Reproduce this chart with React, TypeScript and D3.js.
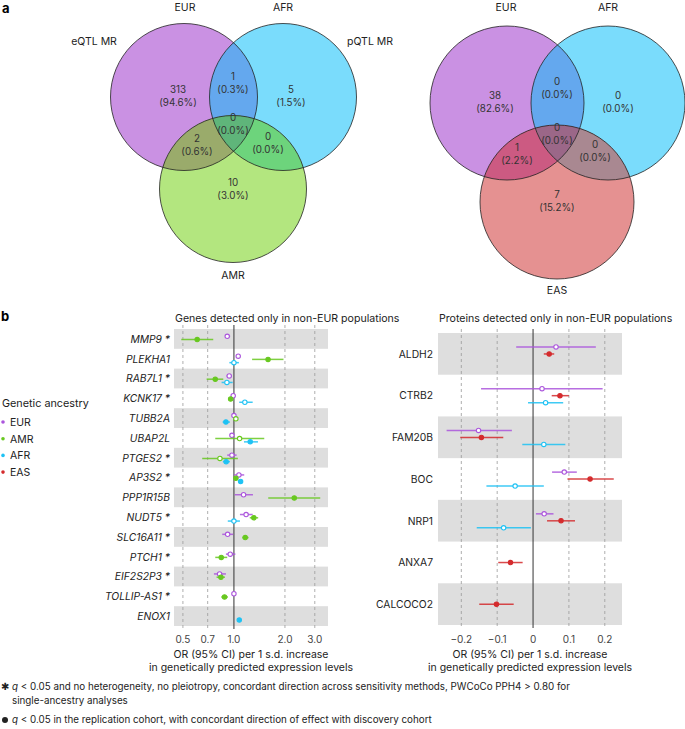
import React from "react"
import * as d3 from "d3"

const FONT = "Inter, 'Noto Sans', sans-serif"
const W = 685
const H = 729

// ---- panel a: Venn counts ----
const REGIONS = ["A", "AB", "B", "ABC", "AC", "BC", "C"]
const eqtlSets = ["EUR", "AFR", "AMR"]
const eqtlCounts = [313, 1, 5, 0, 2, 0, 10]
const pqtlSets = ["EUR", "AFR", "EAS"]
const pqtlCounts = [38, 0, 0, 0, 1, 0, 7]

// ---- panel b: ancestry ----
const ancestries = ["EUR", "AMR", "AFR", "EAS"]
const ancestryColors = ["#ab55dc", "#68c820", "#1ec2f4", "#d42b2d"]

// genes: [label, ancestry, OR, lower, upper, replicated]
const genes = [
  "MMP9 *", "PLEKHA1", "RAB7L1 *", "KCNK17 *", "TUBB2A", "UBAP2L", "PTGES2 *",
  "AP3S2 *", "PPP1R15B", "NUDT5 *", "SLC16A11 *", "PTCH1 *", "EIF2S2P3 *",
  "TOLLIP-AS1 *", "ENOX1",
]
const geneEstimates: [string, string, number, number, number, boolean][] = [
  ["MMP9 *", "EUR", 0.913, 0.89, 0.95, false],
  ["MMP9 *", "AMR", 0.607, 0.489, 0.755, true],
  ["PLEKHA1", "EUR", 1.06, 1.04, 1.08, false],
  ["PLEKHA1", "AMR", 1.59, 1.28, 1.96, true],
  ["PLEKHA1", "AFR", 1.0, 0.94, 1.07, false],
  ["RAB7L1 *", "EUR", 0.938, 0.905, 0.973, false],
  ["RAB7L1 *", "AMR", 0.776, 0.69, 0.865, true],
  ["RAB7L1 *", "AFR", 0.909, 0.846, 0.983, false],
  ["KCNK17 *", "EUR", 0.99, 0.97, 1.01, false],
  ["KCNK17 *", "AMR", 0.956, 0.94, 0.97, true],
  ["KCNK17 *", "AFR", 1.16, 1.075, 1.29, false],
  ["TUBB2A", "EUR", 1.0, 0.98, 1.02, false],
  ["TUBB2A", "AMR", 1.027, 1.01, 1.045, false],
  ["TUBB2A", "AFR", 0.897, 0.858, 0.947, true],
  ["UBAP2L", "EUR", 0.973, 0.95, 0.997, false],
  ["UBAP2L", "AMR", 1.08, 0.776, 1.51, false],
  ["UBAP2L", "AFR", 1.248, 1.146, 1.386, true],
  ["PTGES2 *", "EUR", 0.973, 0.913, 1.037, false],
  ["PTGES2 *", "AMR", 0.827, 0.65, 1.055, false],
  ["PTGES2 *", "AFR", 0.9, 0.86, 0.947, true],
  ["AP3S2 *", "EUR", 1.07, 1.0, 1.15, false],
  ["AP3S2 *", "AMR", 1.027, 1.0, 1.06, true],
  ["AP3S2 *", "AFR", 1.095, 1.07, 1.12, true],
  ["PPP1R15B", "EUR", 1.14, 1.01, 1.295, false],
  ["PPP1R15B", "AMR", 2.27, 1.594, 3.23, true],
  ["NUDT5 *", "EUR", 1.18, 1.085, 1.29, false],
  ["NUDT5 *", "AMR", 1.31, 1.24, 1.39, true],
  ["NUDT5 *", "AFR", 1.0, 0.92, 1.085, false],
  ["SLC16A11 *", "EUR", 0.918, 0.853, 0.99, false],
  ["SLC16A11 *", "AMR", 1.166, 1.12, 1.22, true],
  ["PTCH1 *", "EUR", 0.951, 0.897, 1.02, false],
  ["PTCH1 *", "AMR", 0.842, 0.776, 0.913, true],
  ["EIF2S2P3 *", "EUR", 0.823, 0.762, 0.897, false],
  ["EIF2S2P3 *", "AMR", 0.838, 0.79, 0.885, true],
  ["TOLLIP-AS1 *", "EUR", 1.0, 0.99, 1.01, false],
  ["TOLLIP-AS1 *", "AMR", 0.88, 0.842, 0.922, true],
  ["ENOX1", "AFR", 1.075, 1.06, 1.09, true],
]
const geneTicks = [0.5, 0.7, 1.0, 2.0, 3.0]

const proteins = ["ALDH2", "CTRB2", "FAM20B", "BOC", "NRP1", "ANXA7", "CALCOCO2"]
const proteinEstimates: [string, string, number, number, number, boolean][] = [
  ["ALDH2", "EUR", 0.064, -0.047, 0.175, false],
  ["ALDH2", "EAS", 0.045, 0.03, 0.059, true],
  ["CTRB2", "EUR", 0.025, -0.145, 0.194, false],
  ["CTRB2", "EAS", 0.075, 0.052, 0.1, true],
  ["CTRB2", "AFR", 0.035, -0.014, 0.084, false],
  ["FAM20B", "EUR", -0.152, -0.241, -0.059, false],
  ["FAM20B", "EAS", -0.144, -0.203, -0.083, true],
  ["FAM20B", "AFR", 0.03, -0.03, 0.09, false],
  ["BOC", "EUR", 0.087, 0.053, 0.122, false],
  ["BOC", "EAS", 0.159, 0.096, 0.225, true],
  ["BOC", "AFR", -0.05, -0.13, 0.03, false],
  ["NRP1", "EUR", 0.031, 0.008, 0.057, false],
  ["NRP1", "EAS", 0.078, 0.039, 0.117, true],
  ["NRP1", "AFR", -0.082, -0.157, -0.006, false],
  ["ANXA7", "EAS", -0.063, -0.097, -0.029, true],
  ["CALCOCO2", "EAS", -0.102, -0.15, -0.054, true],
]
const proteinTicks = [-0.2, -0.1, 0, 0.1, 0.2]

const colorOf = d3.scaleOrdinal<string, string>().domain(ancestries).range(ancestryColors)

type VennProps = {
  sets: string[]
  counts: number[]
  centers: [number, number][]
  r: number
  colors: Record<string, string>
  labelPos: [number, number][]
  setLabelPos: [number, number][]
  id: string
}

const Venn = ({ sets, counts, centers, r, colors, labelPos, setLabelPos, id }: VennProps) => {
  const total = d3.sum(counts)
  const fmt = d3.format(".1f")
  const circ = (i: number, fill: string, clip?: string) => (
    <circle cx={centers[i][0]} cy={centers[i][1]} r={r} fill={fill} clipPath={clip} />
  )
  return (
    <g>
      <defs>
        {centers.map((c, i) => (
          <clipPath key={i} id={`${id}-c${i}`}>
            <circle cx={c[0]} cy={c[1]} r={r} />
          </clipPath>
        ))}
      </defs>
      {circ(0, colors.A)}
      {circ(1, colors.B)}
      {circ(2, colors.C)}
      {circ(1, colors.AB, `url(#${id}-c0)`)}
      {circ(2, colors.AC, `url(#${id}-c0)`)}
      {circ(2, colors.BC, `url(#${id}-c1)`)}
      <g clipPath={`url(#${id}-c1)`}>{circ(2, colors.ABC, `url(#${id}-c0)`)}</g>
      {centers.map((c, i) => (
        <circle key={i} cx={c[0]} cy={c[1]} r={r} fill="none" stroke="#222" strokeWidth={0.8} />
      ))}
      {REGIONS.map((reg, i) => (
        <text key={reg} x={labelPos[i][0]} y={labelPos[i][1]} textAnchor="middle" fontSize={9.8} fill="#333">
          <tspan x={labelPos[i][0]} dy={-3}>{counts[i]}</tspan>
          <tspan x={labelPos[i][0]} dy={12.5}>({fmt((counts[i] / total) * 100)}%)</tspan>
        </text>
      ))}
      {sets.map((s, i) => (
        <text key={s} x={setLabelPos[i][0]} y={setLabelPos[i][1]} textAnchor="middle" fontSize={10.5} fill="#222">
          {s}
        </text>
      ))}
    </g>
  )
}

type ForestProps = {
  rows: string[]
  est: [string, string, number, number, number, boolean][]
  x: any
  ticks: number[]
  ref0: number
  top: number
  bottom: number
  left: number
  right: number
  subDomain: string[]
  subRange: [number, number]
  italic: boolean
  labelX: number
  title: string
  tickFmt: (v: number) => string
}

const Forest = (p: ForestProps) => {
  const y = d3.scaleBand().domain(p.rows).range([p.top, p.bottom])
  const bw = y.bandwidth()
  const sub = d3.scalePoint().domain(p.subDomain).range(p.subRange)
  const mid = (p.left + p.right) / 2
  return (
    <g fontFamily={FONT}>
      <text x={p.left + 1} y={322} fontSize={10.6} fill="#222">{p.title}</text>
      {p.rows.map((r, i) => (
        <g key={r}>
          {i % 2 === 0 && (
            <rect x={p.left} y={y(r)} width={p.right - p.left} height={bw} fill="#dedede" />
          )}
          <text
            x={p.labelX}
            y={(y(r) as number) + bw / 2 + 3.8}
            textAnchor="end"
            fontSize={10.3}
            fontStyle={p.italic ? "italic" : "normal"}
            fill="#222"
          >
            {r}
          </text>
        </g>
      ))}
      {p.ticks.map((t) => (
        <g key={t}>
          <line
            x1={p.x(t)}
            x2={p.x(t)}
            y1={p.top - 4}
            y2={p.bottom + 3}
            stroke={t === p.ref0 ? "#333" : "#999"}
            strokeWidth={t === p.ref0 ? 1 : 0.8}
            strokeDasharray={t === p.ref0 ? undefined : "3,3"}
          />
          <text x={p.x(t)} y={643} textAnchor="middle" fontSize={10} fill="#444">
            {p.tickFmt(t)}
          </text>
        </g>
      ))}
      {p.est.map((d, i) => {
        const cy = (y(d[0]) as number) + bw * (sub(d[1]) as number)
        const c = colorOf(d[1])
        return (
          <g key={i}>
            <line x1={p.x(d[3])} x2={p.x(d[4])} y1={cy} y2={cy} stroke={c} strokeWidth={1.5} opacity={0.85} />
            <circle
              cx={p.x(d[2])}
              cy={cy}
              r={2.2}
              fill={d[5] ? c : "#fff"}
              stroke={c}
              strokeWidth={1.1}
            />
          </g>
        )
      })}
      <text x={mid} y={658} textAnchor="middle" fontSize={10.5} fill="#222">
        OR (95% CI) per 1 s.d. increase
      </text>
      <text x={mid} y={671} textAnchor="middle" fontSize={10.5} fill="#222">
        in genetically predicted expression levels
      </text>
    </g>
  )
}

export default function App() {
  const xGene = d3.scaleLog().domain([0.443, 3.59]).range([174, 328])
  const xProt = d3.scaleLinear().domain([-0.265, 0.248]).range([438, 622])

  return (
    <svg
      width={W}
      height={H}
      style={{ position: "absolute", left: 0, top: 0, background: "#fff" }}
      fontFamily={FONT}
    >
      <text x={2} y={13} fontSize={13} fontWeight={700}>a</text>
      <text x={1} y={321} fontSize={13} fontWeight={700}>b</text>

      <text x={94} y={45} textAnchor="middle" fontSize={10.5} fill="#222">eQTL MR</text>
      <text x={370} y={45} textAnchor="middle" fontSize={10.5} fill="#222">pQTL MR</text>

      <Venn
        id="ve"
        sets={eqtlSets}
        counts={eqtlCounts}
        centers={[[184, 97], [283, 97], [233, 189]]}
        r={73.5}
        colors={{
          A: "#ca91e3", B: "#7adcfc", C: "#b3e67f",
          AB: "#64a8ee", AC: "#9aab6b", BC: "#6dd47c", ABC: "#5fb57a",
        }}
        labelPos={[[178, 96], [233, 83], [291, 96], [233, 124], [197, 145], [268, 143], [233, 189]]}
        setLabelPos={[[185, 11], [283, 11], [233, 279]]}
      />
      <Venn
        id="vp"
        sets={pqtlSets}
        counts={pqtlCounts}
        centers={[[507, 103], [608, 103], [557, 202]]}
        r={77}
        colors={{
          A: "#ca91e3", B: "#7adcfc", C: "#e59191",
          AB: "#64a8ee", AC: "#cc5a82", BC: "#a98891", ABC: "#9b6788",
        }}
        labelPos={[[495, 102], [557, 88], [618, 102], [557, 134], [517, 154], [595, 151], [557, 201]]}
        setLabelPos={[[506, 11], [608, 11], [557, 294]]}
      />

      <text x={2} y={407} fontSize={10.8} fill="#222">Genetic ancestry</text>
      {ancestries.map((a, i) => (
        <g key={a}>
          <circle cx={3} cy={422 + i * 16.7} r={1.8} fill={colorOf(a)} />
          <text x={10} y={426 + i * 16.7} fontSize={10.5} fill="#222">{a}</text>
        </g>
      ))}

      <Forest
        rows={genes}
        est={geneEstimates}
        x={xGene}
        ticks={geneTicks}
        ref0={1}
        top={329}
        bottom={626}
        left={174}
        right={328}
        subDomain={["EUR", "AMR", "AFR"]}
        subRange={[0.37, 0.7]}
        italic={true}
        labelX={170}
        title="Genes detected only in non-EUR populations"
        tickFmt={d3.format(".1f")}
      />
      <Forest
        rows={proteins}
        est={proteinEstimates}
        x={xProt}
        ticks={proteinTicks}
        ref0={0}
        top={333}
        bottom={625}
        left={438}
        right={622}
        subDomain={["EUR", "EAS", "AFR"]}
        subRange={[0.335, 0.67]}
        italic={false}
        labelX={433}
        title="Proteins detected only in non-EUR populations"
        tickFmt={(v) => (v === 0 ? "0" : d3.format(".1f")(v).replace("-", "\u2212"))}
      />

      <g fontSize={9.8} fill="#222">
        <text x={1} y={690} fontSize={10} fontFamily="'DejaVu Sans'">✱</text>
        <text x={12} y={690}>
          <tspan fontStyle="italic">q</tspan> {"< 0.05 and no heterogeneity, no pleiotropy, concordant direction across sensitivity methods, PWCoCo PPH4 > 0.80 for"}
        </text>
        <text x={12} y={704}>single-ancestry analyses</text>
        <circle cx={5} cy={720} r={3} fill="#222" />
        <text x={12} y={723}>
          <tspan fontStyle="italic">q</tspan> {"< 0.05 in the replication cohort, with concordant direction of effect with discovery cohort"}
        </text>
      </g>
    </svg>
  )
}
